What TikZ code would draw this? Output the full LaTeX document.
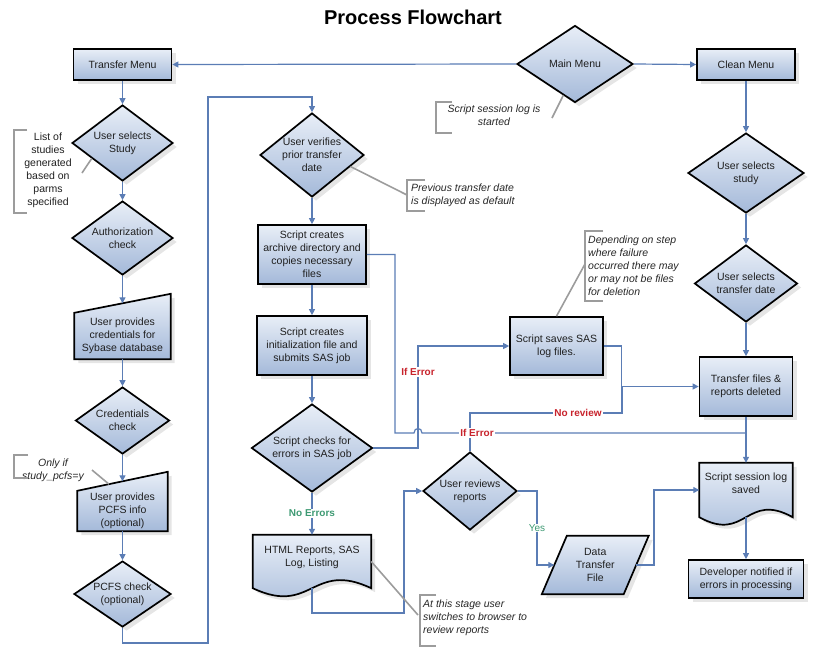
\documentclass[tikz,border=0pt]{standalone}
\usepackage{fontspec}
\setmainfont{Liberation Sans}
\usetikzlibrary{shapes.geometric,arrows.meta,shadows,calc,backgrounds}
\definecolor{cblue}{HTML}{5B7DB5}
\definecolor{ftop}{HTML}{E8EEF7}
\definecolor{fbot}{HTML}{A4B9D9}
\definecolor{errred}{HTML}{C8232C}
\definecolor{okgreen}{HTML}{3E9A73}
\definecolor{anngray}{HTML}{9C9C9C}
\begin{document}
\begin{tikzpicture}[x=1pt,y=-1pt,
  shp/.style={draw=black, line width=1.7pt, top color=ftop, bottom color=fbot,
     drop shadow={shadow xshift=4pt, shadow yshift=-4pt, fill=black!20}},
  txt/.style={font=\fontsize{10.5}{13}\selectfont, align=center, text=black!88, inner sep=0pt},
  rbox/.style={shp, rectangle, txt},
  dia/.style={shp, diamond, inner sep=0pt},
  ghost/.style={rectangle, draw=none, txt},
  conn/.style={draw=cblue, line width=1.2pt},
  arr/.style={conn, -{Triangle[length=6pt,width=6pt]}},
  note/.style={font=\fontsize{10.5}{13}\selectfont\itshape, inner sep=0pt, text=black!85},
  brk/.style={draw=anngray, line width=1.6pt},
  ann/.style={draw=anngray, line width=1.6pt},
  errlbl/.style={font=\fontsize{10}{12}\selectfont\bfseries, text=errred, fill=white, inner sep=1pt},
  oklbl/.style={font=\fontsize{10}{12}\selectfont\bfseries, text=okgreen, fill=white, inner sep=1pt}
]
\useasboundingbox (0,0) rectangle (820,654);

% title
\node[font=\fontsize{20}{24}\selectfont\bfseries] (title) at (413,17) {Process Flowchart};

% ---- column 1
\node[rbox, minimum width=98pt, minimum height=31pt] (tm) at (122.5,64.5) {Transfer Menu};
\node[dia, minimum width=101pt, minimum height=76pt, label={[txt]center:{User selects\\Study}}] (ss) at (122.5,143) {};
\node[dia, minimum width=101pt, minimum height=74pt, label={[txt]center:{Authorization\\check}}] (ac) at (122.5,238) {};
\node[ghost, minimum width=96pt, minimum height=46pt] (cr) at (122.5,336) {User provides\\credentials for\\Sybase database};
\node[dia, minimum width=94pt, minimum height=67pt, label={[txt]center:{Credentials\\check}}] (cc) at (122.5,420.5) {};
\node[ghost, minimum width=90pt, minimum height=40pt] (pi) at (122.5,511) {User provides\\PCFS info\\(optional)};
\node[dia, minimum width=97pt, minimum height=66pt, label={[txt]center:{PCFS check\\(optional)}}] (pc) at (122.5,594) {};

% ---- column 2
\node[dia, minimum width=104pt, minimum height=84pt, label={[txt]center:{User verifies\\prior transfer\\date}}] (uv) at (312,155) {};
\node[rbox, minimum width=108pt, minimum height=59pt] (ar) at (312,254.5) {Script creates\\archive directory and\\copies necessary\\files};
\node[rbox, minimum width=110pt, minimum height=59pt] (in) at (312,345.5) {Script creates\\initialization file and\\submits SAS job};
\node[dia, minimum width=121pt, minimum height=88pt, label={[txt]center:{Script checks for\\errors in SAS job}}] (ce) at (312,448) {};
\node[ghost, minimum width=118pt, minimum height=53pt, label={[txt,yshift=4.5pt]center:{HTML Reports, SAS\\Log, Listing}}] (ht) at (312,561.5) {};

% ---- middle
\node[dia, minimum width=94pt, minimum height=78pt, label={[txt]center:{User reviews\\reports}}] (ur) at (470,491) {};
\node[ghost, minimum width=81.5pt, minimum height=58pt] (dt) at (595.25,565) {Data\\Transfer\\File};
\node[rbox, minimum width=93pt, minimum height=58pt] (sv) at (556.5,346) {Script saves SAS\\log files.};
\node[dia, minimum width=116pt, minimum height=77pt, label={[txt]center:{Main Menu}}] (mm) at (575,64) {};

% ---- right column
\node[rbox, minimum width=98pt, minimum height=31pt] (cm) at (746,64.5) {Clean Menu};
\node[dia, minimum width=116pt, minimum height=80pt, label={[txt]center:{User selects\\study}}] (us) at (746,173) {};
\node[dia, minimum width=103pt, minimum height=77pt, label={[txt]center:{User selects\\transfer date}}] (td) at (746,283.5) {};
\node[rbox, minimum width=93pt, minimum height=59pt] (tf) at (746,386.5) {Transfer files \&\\reports deleted};
\node[ghost, minimum width=93pt, minimum height=54pt, label={[txt,yshift=6.5pt]center:{Script session log\\saved}}] (sl) at (746,490) {};
\node[rbox, minimum width=115pt, minimum height=38pt] (dn) at (746,579) {Developer notified if\\errors in processing};

% ---- custom shapes behind their texts
\begin{scope}[on background layer]
  \path[shp] (cr.south west) -- (cr.north west) -- ([yshift=19pt]cr.north east) -- (cr.south east) -- cycle;
  \path[shp] (pi.south west) -- (pi.north west) -- ([yshift=19pt]pi.north east) -- (pi.south east) -- cycle;
  \path[shp] ([xshift=12.5pt]dt.north west) -- ([xshift=12.5pt]dt.north east) -- ([xshift=-12.5pt]dt.south east) -- ([xshift=-12.5pt]dt.south west) -- cycle;
  \path[shp] (ht.north west) -- (ht.north east) -- (ht.south east)
     .. controls ($(ht.south)+(0,-28)$) and ($(ht.south)+(0,28)$) .. (ht.south west) -- cycle;
  \path[shp] (sl.north west) -- (sl.north east) -- (sl.south east)
     .. controls ($(sl.south)+(0,-26)$) and ($(sl.south)+(0,26)$) .. (sl.south west) -- cycle;
\end{scope}

% ---- connectors
\draw[arr] (mm.west) -- (tm.east);
\draw[arr] (mm.east) -- (cm.west);
\draw[arr] (tm.south) -- (ss.north);
\draw[arr] (ss.south) -- (ac.north);
\draw[arr] (ac.south) -- ([yshift=9.5pt]cr.north);
\draw[arr] (cr.south) -- (cc.north);
\draw[arr] (cc.south) -- ([yshift=9.5pt]pi.north);
\draw[arr] (pi.south) -- (pc.north);
\draw[arr] (pc.south) |- (208,643) -- (208,97) -| (uv.north);
\draw[arr] (uv.south) -- (ar.north);
\draw[arr] (ar.south) -- (in.north);
\draw[arr] (in.south) -- (ce.north);
\draw[arr] (ce.south) -- (ht.north);
\draw[arr] (ce.east) -- (418,448) |- (sv.west);
\draw[conn] (ar.east) -| (395,433) -- (414,433) .. controls (414,427) and (422,427) .. (422,433) -- (tf.south |- 0,433);
\draw[conn] (ur.north) |- (622,413) -- (622,386.5);
\draw[arr] (sv.east) -| ($(tf.west)+(-77,0)$) -- (tf.west);
\draw[arr] (ht.south) |- (404,613) |- (ur.west);
\draw[arr] (ur.east) -- (537,491) |- (dt.west);
\draw[arr] (dt.east) -- (654,565) |- (sl.west);
\draw[arr] (cm.south) -- (us.north);
\draw[arr] (us.south) -- (td.north);
\draw[arr] (td.south) -- (tf.north);
\draw[arr] (tf.south) -- (sl.north);
\draw[arr] (sl.south) -- (dn.north);

% ---- connector labels
\node[oklbl] (lno) at (312,513.5) {No Errors};
\node[errlbl] (le1) at (418,372) {If Error};
\node[errlbl] (le2) at (477,433) {If Error};
\node[errlbl] (lnr) at (578,413) {No review};
\node[oklbl, font=\fontsize{10}{12}\selectfont] (lyes) at (537,528) {Yes};

% ---- annotations
\node[txt] (a1) at (48,170.5) {List of\\studies\\generated\\based on\\parms\\specified};
\draw[brk] (27,130) -- (14,130) -- (14,213) -- (27,213);
\coordinate (n1) at (82,173);
\draw[ann] (n1) -- ($(ss.west)!0.4!(ss.south)$);

\node[note, align=center] (a2) at (53,470) {Only if\\study\_pcfs=y};
\draw[brk] (28,455) -- (14,455) -- (14,478) -- (28,478);
\coordinate (n2) at (92,470);
\draw[ann] (n2) -- ($(pi.north west)!0.35!([yshift=19pt]pi.north east)$);

\node[note, align=center] (a3) at (494,115.5) {Script session log is\\started};
\draw[brk] (452,102) -- (436,102) -- (436,133) -- (452,133);
\coordinate (n3) at (552,118);
\draw[ann] (n3) -- ($(mm.west)!0.8!(mm.south)$);

\node[note, align=left, anchor=west] (a4) at (411,195.5) {Previous transfer date\\is displayed as default};
\draw[brk] (425,180) -- (407,180) -- (407,211) -- (425,211);
\coordinate (n4) at (407,195);
\draw[ann] ($(uv.east)!0.27!(uv.south)$) -- (n4);

\node[note, align=left, anchor=west] (a5) at (588,266) {Depending on step\\where failure\\occurred there may\\or may not be files\\for deletion};
\draw[brk] (603,231) -- (585,231) -- (585,301) -- (603,301);
\coordinate (n5) at (585,264);
\draw[ann] (sv.north) -- (n5);

\node[note, align=left, anchor=west] (a6) at (423,618) {At this stage user\\switches to browser to\\review reports};
\draw[brk] (436,595) -- (420,595) -- (420,646) -- (436,646);
\coordinate (n6) at (418,615);
\draw[ann] (ht.east) -- (n6);
\end{tikzpicture}
\end{document}
